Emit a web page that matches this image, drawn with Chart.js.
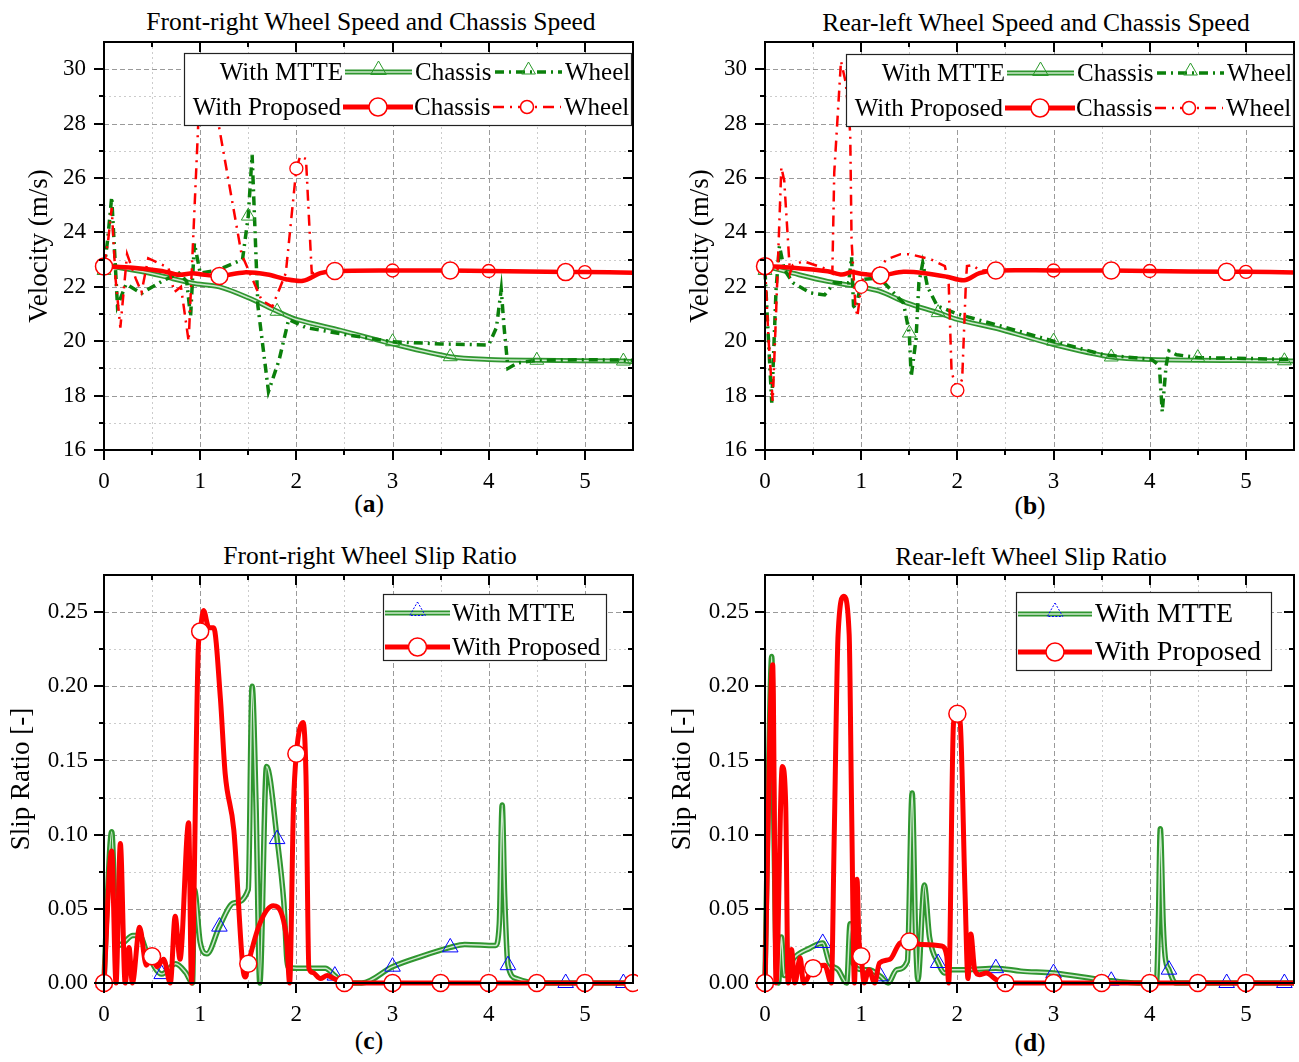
<!DOCTYPE html>
<html>
<head>
<meta charset="utf-8">
<script src="https://cdn.jsdelivr.net/npm/chart.js@4.4.1/dist/chart.umd.min.js"></script>
<style>
  body { margin: 0; background: #fff; width: 1299px; height: 1062px; position: relative; overflow: hidden;
         font-family: "Liberation Serif", "Times New Roman", serif; color: #000; }
  canvas { position: absolute; }
  .ttl { position: absolute; font-size: 25.5px; line-height: 25px; white-space: nowrap; transform: translateX(-50%); }
</style>
</head>
<body>
<div class="ttl" style="left:371px;top:9px">Front-right Wheel Speed and Chassis Speed</div>
<div class="ttl" style="left:1036px;top:10px">Rear-left Wheel Speed and Chassis Speed</div>
<div class="ttl" style="left:370px;top:543px">Front-right Wheel Slip Ratio</div>
<div class="ttl" style="left:1031px;top:544px">Rear-left Wheel Slip Ratio</div>
<div class="ttl" style="left:369px;top:491px">(<b>a</b>)</div>
<div class="ttl" style="left:1030px;top:493px">(<b>b</b>)</div>
<div class="ttl" style="left:369px;top:1028px">(<b>c</b>)</div>
<div class="ttl" style="left:1030px;top:1030px">(<b>d</b>)</div>

<canvas id="ca" style="left:0;top:0"></canvas>
<canvas id="cb" style="left:661px;top:0"></canvas>
<canvas id="cc" style="left:0;top:533px"></canvas>
<canvas id="cd" style="left:661px;top:533px"></canvas>

<script>
// --- DATA (time in s, value) ---
// (a) front-right speeds
const aPropChassis = [[0,22.75],[0.3,22.7],[0.6,22.58],[0.78,22.44],[0.92,22.5],[1.0,22.46],[1.2,22.4],[1.46,22.53],[1.7,22.45],[1.89,22.28],[2.07,22.22],[2.25,22.5],[2.4,22.58],[3.0,22.6],[3.6,22.6],[4.0,22.58],[4.8,22.54],[5.0,22.54],[5.5,22.52]];
const aPropWheel = [[0,22.8],[0.04,23.6],[0.08,24.9],[0.12,22.3],[0.17,20.5],[0.24,23.2],[0.33,22.3],[0.39,21.8],[0.46,23.05],[0.55,22.9],[0.67,22.7],[0.73,21.8],[0.8,22.0],[0.88,20.0],[0.98,28.0],[1.0,29.5],[1.03,30.4],[1.19,28.0],[1.43,23.2],[1.64,21.5],[1.75,21.27],[1.89,22.5],[2.0,26.35],[2.04,26.8],[2.1,26.7],[2.16,22.5],[2.3,22.55],[2.5,22.6],[3.0,22.6],[4.0,22.58],[5.0,22.54],[5.5,22.52]];
const aMtteWheel = [[0,22.6],[0.04,23.8],[0.08,25.3],[0.14,21.3],[0.23,22.1],[0.39,21.76],[0.6,22.2],[0.78,22.5],[0.86,22.2],[0.9,20.9],[0.94,23.6],[1.0,22.5],[1.17,22.6],[1.44,23.0],[1.5,24.6],[1.54,26.85],[1.6,21.3],[1.71,18.15],[1.82,19.3],[1.92,20.8],[2.1,20.5],[2.5,20.25],[3.0,19.98],[3.5,19.9],[4.0,19.86],[4.08,20.5],[4.13,21.9],[4.16,20.5],[4.2,19.0],[4.3,19.2],[4.5,19.3],[5.0,19.32],[5.5,19.3]];
const aMtteChassis = [[0,22.8],[0.39,22.56],[0.6,22.4],[0.92,22.13],[1.2,22.0],[1.5,21.6],[1.8,21.1],[2.0,20.8],[2.46,20.4],[3.0,19.9],[3.6,19.43],[4.0,19.33],[4.5,19.3],[5.4,19.27],[5.5,19.25]];

// (b) rear-left speeds
const bPropChassis = [[0,22.76],[0.29,22.7],[0.65,22.57],[0.8,22.45],[0.9,22.54],[1.0,22.48],[1.2,22.42],[1.44,22.55],[1.66,22.5],[1.89,22.37],[2.07,22.24],[2.23,22.5],[2.4,22.6],[3.0,22.6],[3.6,22.6],[4.0,22.58],[4.8,22.55],[5.0,22.55],[5.5,22.53]];
const bPropWheel = [[0,22.8],[0.036,20.1],[0.08,17.8],[0.12,21.5],[0.17,26.4],[0.2,25.9],[0.26,22.5],[0.29,22.8],[0.4,22.94],[0.65,22.64],[0.7,22.5],[0.72,26.2],[0.79,30.3],[0.84,29.5],[0.886,27.65],[0.9,23.7],[0.94,21.3],[0.96,20.9],[1.0,22.0],[1.03,22.5],[1.15,22.5],[1.26,23.0],[1.41,23.2],[1.51,23.2],[1.73,23.0],[1.87,22.76],[1.91,22.1],[1.94,18.85],[2.0,18.2],[2.05,18.6],[2.09,22.27],[2.1,22.76],[2.16,22.8],[2.23,22.6],[2.5,22.62],[3.0,22.6],[4.0,22.58],[5.0,22.55],[5.5,22.53]];
const bMtteWheel = [[0,22.6],[0.025,20.8],[0.07,17.74],[0.115,21.9],[0.15,23.5],[0.2,22.64],[0.29,22.15],[0.47,21.78],[0.62,21.7],[0.72,22.15],[0.87,22.15],[0.9,23.1],[0.92,21.3],[0.94,21.2],[1.01,22.27],[1.19,22.33],[1.44,21.4],[1.5,20.3],[1.52,18.7],[1.57,20.07],[1.6,22.15],[1.64,22.88],[1.69,22.0],[1.79,21.3],[2.0,21.0],[2.45,20.56],[3.0,20.0],[3.52,19.5],[4.02,19.33],[4.1,19.1],[4.13,17.4],[4.17,19.1],[4.2,19.64],[4.28,19.5],[4.5,19.4],[5.5,19.33]];
const bMtteChassis = [[0,22.76],[0.29,22.5],[0.65,22.2],[0.98,22.0],[1.19,21.84],[1.48,21.4],[1.8,21.05],[2.0,20.8],[2.45,20.43],[3.0,19.88],[3.6,19.42],[4.0,19.33],[5.4,19.28],[5.5,19.27]];

// (c) front-right slip ratio
const cProp = [[0,0],[0.08,0.089],[0.125,0],[0.17,0.094],[0.22,0],[0.26,0.024],[0.295,0],[0.37,0.0376],[0.44,0.012],[0.5,0.018],[0.55,0.011],[0.62,0.016],[0.69,0],[0.74,0.045],[0.79,0.016],[0.88,0.108],[0.91,0],[0.98,0.225],[1.0,0.237],[1.035,0.251],[1.09,0.2395],[1.14,0.2395],[1.21,0.192],[1.26,0.141],[1.35,0.103],[1.45,0.007],[1.47,0.004],[1.5,0.013],[1.62,0.04],[1.76,0.052],[1.85,0.046],[1.9,0.028],[1.93,0],[1.97,0.12],[2.0,0.1545],[2.07,0.1756],[2.1,0.14],[2.13,0.01],[2.17,0.007],[2.25,0.003],[2.32,0.005],[2.39,0.003],[2.5,0],[3.0,0],[3.5,0],[4.0,0],[4.5,0],[5.0,0],[5.5,0]];
const cMtte = [[0,0],[0.03,0.05],[0.08,0.102],[0.12,0.04],[0.14,0.025],[0.2,0.027],[0.3,0.032],[0.37,0.032],[0.45,0.02],[0.6,0.006],[0.745,0.013],[0.85,0.007],[0.92,0],[0.94,0.063],[1.0,0.0275],[1.07,0.0197],[1.2,0.038],[1.35,0.054],[1.5,0.063],[1.54,0.2],[1.58,0.122],[1.62,0],[1.69,0.146],[1.8,0.097],[1.87,0.054],[1.91,0.011],[2.0,0.01],[2.3,0.01],[2.4,0.005],[2.5,0],[2.68,0],[3.0,0.011],[3.3,0.018],[3.6,0.024],[3.75,0.026],[4.07,0.0253],[4.11,0.04],[4.14,0.12],[4.165,0.06],[4.2,0.012],[4.29,0.003],[4.5,0],[4.8,0],[5.4,0],[5.5,0]];

// (d) rear-left slip ratio
const dProp = [[0,0],[0.08,0.2145],[0.115,0],[0.18,0.146],[0.215,0.121],[0.24,0],[0.276,0.0225],[0.31,0],[0.366,0.017],[0.4,0],[0.5,0.01],[0.62,0.012],[0.69,0],[0.72,0.1],[0.76,0.235],[0.82,0.2606],[0.875,0.235],[0.9,0.12],[0.93,0],[0.957,0.07],[0.975,0.031],[1.0,0.018],[1.03,0],[1.08,0.009],[1.14,0],[1.19,0.0135],[1.3,0.016],[1.405,0.027],[1.5,0.028],[1.62,0.026],[1.835,0.025],[1.89,0.018],[1.91,0],[1.96,0.175],[2.0,0.1815],[2.03,0.175],[2.08,0.06],[2.11,0.003],[2.14,0.033],[2.18,0.009],[2.23,0.0056],[2.3,0.0067],[2.41,0.002],[2.5,0],[3.0,0],[3.5,0],[4.0,0],[4.5,0],[5.0,0],[5.5,0]];
const dMtte = [[0,0],[0.04,0.15],[0.07,0.22],[0.09,0.12],[0.11,0.031],[0.14,0],[0.17,0.031],[0.2,0.005],[0.29,0.016],[0.47,0.0236],[0.6,0.027],[0.67,0.0135],[0.76,0.009],[0.85,0],[0.885,0.04],[0.92,0.013],[1.01,0.009],[1.08,0.009],[1.2,0.0045],[1.28,0],[1.37,0.009],[1.48,0.0146],[1.53,0.128],[1.566,0.031],[1.59,0.002],[1.656,0.066],[1.71,0.031],[1.8,0.0135],[1.87,0.0067],[1.94,0.009],[2.09,0.009],[2.4,0.01],[2.66,0.008],[3.0,0.0067],[3.52,0.002],[3.6,0.0015],[3.88,0],[4.07,0],[4.09,0.04],[4.11,0.104],[4.14,0.04],[4.16,0.018],[4.2,0.009],[4.27,0],[4.8,0],[5.4,0],[5.5,0]];

// marker positions
const propChassisMarks = [0, 1.2, 2.4, 3.6, 4.8];
const propWheelMarks = [0, 1, 2, 3, 4, 5];
const mtteWheelMarks = [0, 1.5, 3.0, 4.5];
const mtteChassisMarks = [0, 1.8, 3.6, 5.4];
const cPropMarks = [0, 0.5, 1, 1.5, 2, 2.5, 3, 3.5, 4, 4.5, 5, 5.5];
const dPropMarks = [0, 0.5, 1, 1.5, 2, 2.5, 3, 3.5, 4, 4.5, 5];
const slipMtteMarks = [0, 0.6, 1.2, 1.8, 2.4, 3.0, 3.6, 4.2, 4.8, 5.4];

// ticks
const xTicks = [0, 1, 2, 3, 4, 5];
const xMinor = [0.5, 1.5, 2.5, 3.5, 4.5];
const velTicks = [16, 18, 20, 22, 24, 26, 28, 30];
const velMinor = [17, 19, 21, 23, 25, 27, 29];
const slipTicks = [0, 0.05, 0.1, 0.15, 0.2, 0.25];
const slipMinor = [0.025, 0.075, 0.125, 0.175, 0.225];

const FONT = '"Liberation Serif", "Times New Roman", serif';
const RED = '#ff0000';
const GREEN = '#0b800b';
const GREEN_BAND = '#2f962f';
const GREEN_LIGHT = '#cfe9cf';
const GREEN_TRI = '#2a9a2a';
const BLUE = '#0000ff';
const WHEEL_DASH_G = [9, 5, 2, 5];
const WHEEL_DASH_R = [11, 6, 2, 6];

const pts = arr => arr.map(([x, y]) => ({ x, y }));
const at = (xs, r) => c => (c.raw && xs.some(v => Math.abs(c.raw.x - v) < 1e-6)) ? r : 0;

// --- legend drawing helpers ---
function tri(ctx, x, y, r, color) {
  ctx.save();
  ctx.setLineDash(color === BLUE ? [2, 1.5] : []);
  ctx.strokeStyle = color; ctx.lineWidth = 1;
  ctx.beginPath();
  for (let i = 0; i < 3; i++) {
    const a = i * 2 * Math.PI / 3;
    const px = x + Math.sin(a) * r, py = y - Math.cos(a) * r;
    i ? ctx.lineTo(px, py) : ctx.moveTo(px, py);
  }
  ctx.closePath(); ctx.stroke();
  ctx.restore();
}
function circ(ctx, x, y, r) {
  ctx.save();
  ctx.setLineDash([]);
  ctx.fillStyle = '#fff'; ctx.strokeStyle = RED; ctx.lineWidth = 1.5;
  ctx.beginPath(); ctx.arc(x, y, r, 0, Math.PI * 2); ctx.fill(); ctx.stroke();
  ctx.restore();
}
function seg(ctx, x1, x2, y, color, w, dash) {
  ctx.save();
  ctx.setLineDash(dash || []);
  ctx.strokeStyle = color; ctx.lineWidth = w;
  ctx.beginPath(); ctx.moveTo(x1, y); ctx.lineTo(x2, y); ctx.stroke();
  ctx.restore();
}
function sample(ctx, kind, x1, x2, y) {
  const m = (x1 + x2) / 2;
  if (kind === 'mtteChassis' || kind === 'mtteSlip') {
    seg(ctx, x1, x2, y, GREEN_BAND, 5);
    seg(ctx, x1, x2, y, GREEN_LIGHT, 1.5);
    tri(ctx, m, y - 2, 9, kind === 'mtteSlip' ? BLUE : GREEN_TRI);
  } else if (kind === 'mtteWheel') {
    seg(ctx, x1, x2, y, GREEN, 3.5, WHEEL_DASH_G);
    tri(ctx, m, y - 2, 8, GREEN_TRI);
  } else if (kind === 'propChassis' || kind === 'propSlip') {
    seg(ctx, x1, x2, y, RED, 5);
    circ(ctx, m, y, 9);
  } else if (kind === 'propWheel') {
    seg(ctx, x1, x2, y, RED, 2.5, WHEEL_DASH_R);
    circ(ctx, m, y, 6.5);
  }
}
function drawLegend(ctx, lg) {
  ctx.save();
  const [bx, by, bw, bh] = lg.box;
  ctx.fillStyle = '#fff'; ctx.fillRect(bx, by, bw, bh);
  ctx.strokeStyle = '#222'; ctx.lineWidth = 1.2; ctx.setLineDash([]);
  ctx.strokeRect(bx + 0.5, by + 0.5, bw, bh);
  ctx.font = lg.font + 'px ' + FONT;
  ctx.fillStyle = '#000'; ctx.textBaseline = 'middle';
  lg.rows.forEach(r => {
    if (r.label) { ctx.textAlign = 'right'; ctx.fillText(r.label, r.labelRight, r.y + 1); }
    r.items.forEach(([kind, x1, x2, text, tx]) => {
      sample(ctx, kind, x1, x2, r.y);
      ctx.textAlign = 'left'; ctx.fillText(text, tx, r.y + 1);
    });
  });
  ctx.restore();
}

// --- frame, grid, ticks on all sides, legend ---
const framePlugin = {
  id: 'frame',
  beforeDatasetsDraw(chart) {
    const o = chart.options.plugins.frame;
    const { ctx, chartArea: a } = chart;
    const xs = chart.scales.x, ys = chart.scales.y;
    ctx.save();
    ctx.lineWidth = 1;
    const vl = (vals, color, dash) => {
      ctx.strokeStyle = color; ctx.setLineDash(dash);
      vals.forEach(v => {
        const p = Math.round(xs.getPixelForValue(v)) + 0.5;
        ctx.beginPath(); ctx.moveTo(p, a.top); ctx.lineTo(p, a.bottom); ctx.stroke();
      });
    };
    const hl = (vals, color, dash) => {
      ctx.strokeStyle = color; ctx.setLineDash(dash);
      vals.forEach(v => {
        const p = Math.round(ys.getPixelForValue(v)) + 0.5;
        ctx.beginPath(); ctx.moveTo(a.left, p); ctx.lineTo(a.right, p); ctx.stroke();
      });
    };
    vl(xMinor, '#cccccc', [2, 3]);
    hl(o.yMinor, '#cccccc', [2, 3]);
    vl(xTicks, '#9a9a9a', [5, 3]);
    hl(o.yMajor, '#9a9a9a', [5, 3]);
    ctx.restore();
  },
  afterDatasetsDraw(chart) {
    const o = chart.options.plugins.frame;
    const { ctx, chartArea: a } = chart;
    const xs = chart.scales.x, ys = chart.scales.y;
    ctx.save();
    ctx.setLineDash([]);
    ctx.strokeStyle = '#000';
    ctx.lineWidth = 2;
    ctx.strokeRect(a.left, a.top, a.right - a.left, a.bottom - a.top);
    const tickX = (vals, len) => vals.forEach(v => {
      const p = Math.round(xs.getPixelForValue(v));
      ctx.beginPath(); ctx.moveTo(p, a.bottom); ctx.lineTo(p, a.bottom + len); ctx.stroke();
      ctx.beginPath(); ctx.moveTo(p, a.top); ctx.lineTo(p, a.top + len); ctx.stroke();
    });
    const tickY = (vals, len) => vals.forEach(v => {
      const p = Math.round(ys.getPixelForValue(v));
      ctx.beginPath(); ctx.moveTo(a.left, p); ctx.lineTo(a.left - len, p); ctx.stroke();
      ctx.beginPath(); ctx.moveTo(a.right, p); ctx.lineTo(a.right - len, p); ctx.stroke();
    });
    tickX(xTicks, 10); tickX(xMinor, 5);
    tickY(o.yMajor, 10); tickY(o.yMinor, 5);
    ctx.restore();
    if (o.legend) drawLegend(ctx, o.legend);
  }
};

function velDatasets(propChassis, propWheel, mtteWheel, mtteChassis) {
  return [
    { data: pts(propChassis), borderColor: RED, borderWidth: 4.5, tension: 0.3,
      pointRadius: at(propChassisMarks, 8.5), pointStyle: 'circle',
      pointBackgroundColor: '#fff', pointBorderColor: RED, pointBorderWidth: 1.5, clip: 12 },
    { data: pts(propWheel), borderColor: RED, borderWidth: 2.5, borderDash: WHEEL_DASH_R, tension: 0,
      pointRadius: at(propWheelMarks, 6.5), pointStyle: 'circle',
      pointBackgroundColor: '#fff', pointBorderColor: RED, pointBorderWidth: 1.3, clip: 12 },
    { data: pts(mtteWheel), borderColor: GREEN, borderWidth: 3.5, borderDash: WHEEL_DASH_G, tension: 0,
      pointRadius: at(mtteWheelMarks, 8), pointStyle: 'triangle',
      pointBackgroundColor: 'rgba(255,255,255,0)', pointBorderColor: GREEN_TRI, pointBorderWidth: 1, clip: 12 },
    { data: pts(mtteChassis), borderColor: GREEN_LIGHT, borderWidth: 1.5, tension: 0.3,
      pointRadius: at(mtteChassisMarks, 8), pointStyle: 'triangle',
      pointBackgroundColor: 'rgba(255,255,255,0)', pointBorderColor: GREEN_TRI, pointBorderWidth: 1, clip: 12 },
    { data: pts(mtteChassis), borderColor: GREEN_BAND, borderWidth: 5, tension: 0.3, pointRadius: 0, clip: 12 }
  ];
}

function slipDatasets(prop, mtte, propMarks) {
  return [
    { data: pts(prop), borderColor: RED, borderWidth: 5, cubicInterpolationMode: 'monotone',
      pointRadius: at(propMarks, 8.5), pointStyle: 'circle',
      pointBackgroundColor: '#fff', pointBorderColor: RED, pointBorderWidth: 1.5, clip: 12 },
    { data: pts(mtte), borderColor: GREEN_LIGHT, borderWidth: 1.5, cubicInterpolationMode: 'monotone',
      pointRadius: at(slipMtteMarks, 9), pointStyle: 'triangle',
      pointBackgroundColor: 'rgba(255,255,255,0)', pointBorderColor: BLUE, pointBorderWidth: 1, clip: 12 },
    { data: pts(mtte), borderColor: GREEN_BAND, borderWidth: 5.5, cubicInterpolationMode: 'monotone',
      pointRadius: 0, clip: 12 }
  ];
}

function makeChart(id, cfg) {
  const cv = document.getElementById(id);
  cv.width = 638; cv.height = 500;
  cv.style.width = '638px'; cv.style.height = '500px';
  return new Chart(cv, {
    type: 'line',
    data: { datasets: cfg.datasets },
    plugins: [framePlugin],
    options: {
      responsive: false,
      devicePixelRatio: 1,
      animation: false,
      events: [],
      layout: { autoPadding: false, padding: { left: 0, top: 42, right: 5, bottom: 0 } },
      plugins: {
        legend: { display: false },
        tooltip: { enabled: false },
        frame: { yMajor: cfg.yTicks, yMinor: cfg.yMinor, legend: cfg.legend }
      },
      scales: {
        x: {
          type: 'linear', min: 0, max: 5.5,
          afterBuildTicks: s => { s.ticks = xTicks.map(v => ({ value: v })); },
          afterFit: s => { s.height = 50; s.paddingLeft = 0; s.paddingRight = 0; },
          grid: { display: false, drawTicks: false },
          border: { display: false },
          ticks: { color: '#000', padding: 18, maxRotation: 0, autoSkip: false,
                   font: { family: FONT, size: 23, lineHeight: 1.2 },
                   callback: v => String(v) }
        },
        y: {
          type: 'linear', min: cfg.yMin, max: cfg.yMax,
          afterBuildTicks: s => { s.ticks = cfg.yTicks.map(v => ({ value: v })); },
          afterFit: s => { s.width = 104; s.paddingTop = 0; s.paddingBottom = 0; },
          grid: { display: false, drawTicks: false },
          border: { display: false },
          ticks: { color: '#000', padding: cfg.yPad, autoSkip: false,
                   font: { family: FONT, size: 23, lineHeight: 1.2 },
                   callback: cfg.yFmt },
          title: { display: true, text: cfg.yTitle, color: '#000',
                   font: { family: FONT, size: 27, lineHeight: 1.2 },
                   padding: { top: cfg.titlePad, bottom: 0 } }
        }
      }
    }
  });
}

const velLegend = (dx, dy) => ({
  box: [184 + dx, 53 + dy, 447, 72], font: 25,
  rows: [
    { y: 72 + dy, label: 'With MTTE', labelRight: 343 + dx,
      items: [['mtteChassis', 345 + dx, 412 + dx, 'Chassis', 415 + dx], ['mtteWheel', 495 + dx, 562 + dx, 'Wheel', 565 + dx]] },
    { y: 107 + dy, label: 'With Proposed', labelRight: 341 + dx,
      items: [['propChassis', 343 + dx, 413 + dx, 'Chassis', 414 + dx], ['propWheel', 493 + dx, 561 + dx, 'Wheel', 564 + dx]] }
  ]
});

makeChart('ca', {
  datasets: velDatasets(aPropChassis, aPropWheel, aMtteWheel, aMtteChassis),
  yMin: 16, yMax: 31, yTicks: velTicks, yMinor: velMinor, yPad: 18, yFmt: v => String(v),
  yTitle: 'Velocity (m/s)', titlePad: 24, legend: velLegend(0, 0)
});
makeChart('cb', {
  datasets: velDatasets(bPropChassis, bPropWheel, bMtteWheel, bMtteChassis),
  yMin: 16, yMax: 31, yTicks: velTicks, yMinor: velMinor, yPad: 18, yFmt: v => String(v),
  yTitle: 'Velocity (m/s)', titlePad: 24, legend: velLegend(1, 1)
});
makeChart('cc', {
  datasets: slipDatasets(cProp, cMtte, cPropMarks),
  yMin: 0, yMax: 0.275, yTicks: slipTicks, yMinor: slipMinor, yPad: 16, yFmt: v => v.toFixed(2),
  yTitle: 'Slip Ratio [-]', titlePad: 6,
  legend: { box: [383, 61, 223, 66], font: 25, rows: [
    { y: 80, items: [['mtteSlip', 385, 450, 'With MTTE', 452]] },
    { y: 114, items: [['propSlip', 385, 450, 'With Proposed', 452]] }
  ] }
});
makeChart('cd', {
  datasets: slipDatasets(dProp, dMtte, dPropMarks),
  yMin: 0, yMax: 0.275, yTicks: slipTicks, yMinor: slipMinor, yPad: 16, yFmt: v => v.toFixed(2),
  yTitle: 'Slip Ratio [-]', titlePad: 6,
  legend: { box: [355, 59, 255, 78], font: 28, rows: [
    { y: 81, items: [['mtteSlip', 357, 431, 'With MTTE', 434]] },
    { y: 119, items: [['propSlip', 357, 431, 'With Proposed', 434]] }
  ] }
});
</script>
</body>
</html>
